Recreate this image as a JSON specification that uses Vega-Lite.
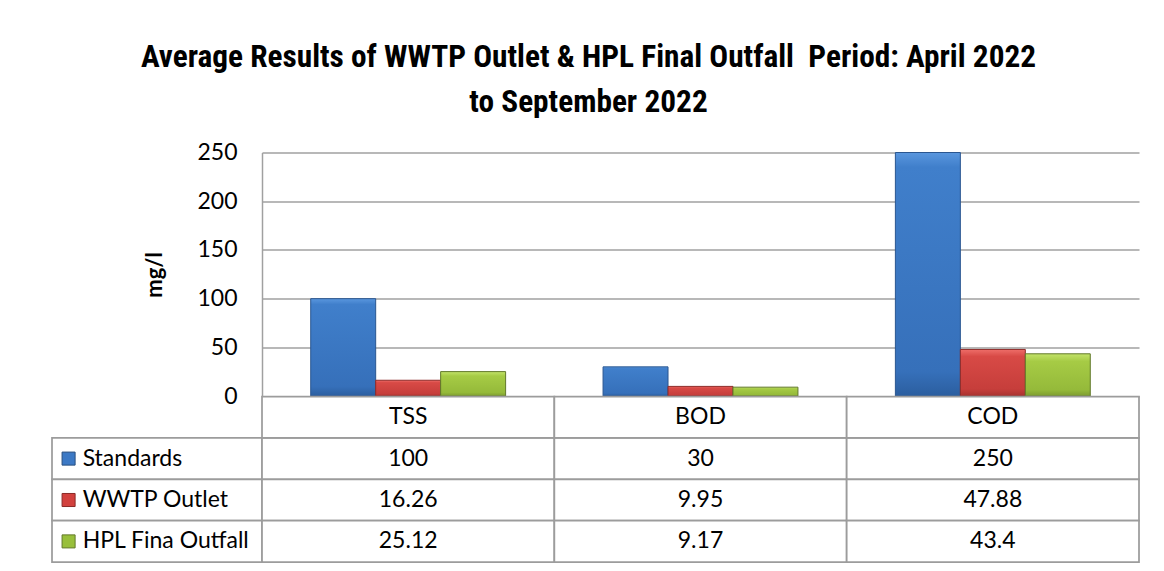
{
  "$schema": "https://vega.github.io/schema/vega-lite/v6.json",
  "padding": {"left": 51, "top": 41.5, "right": 24, "bottom": 9},
  "background": "white",
  "title": {
    "text": ["Average Results of WWTP Outlet & HPL Final Outfall \u00a0Period: April 2022", "to September 2022"],
    "font": "Roboto Condensed, DejaVu Sans Condensed, sans-serif",
    "fontSize": 31.3,
    "fontWeight": "bold",
    "lineHeight": 45,
    "color": "black",
    "anchor": "middle",
    "dx": -7,
    "offset": 23
  },
  "columns": 2,
  "spacing": 0,
  "bounds": "flush",
  "datasets": {
    "results": [
      {"parameter": "TSS", "series": "Standards", "value": 100},
      {"parameter": "TSS", "series": "WWTP Outlet", "value": 16.26},
      {"parameter": "TSS", "series": "HPL Fina Outfall", "value": 25.12},
      {"parameter": "BOD", "series": "Standards", "value": 30},
      {"parameter": "BOD", "series": "WWTP Outlet", "value": 9.95},
      {"parameter": "BOD", "series": "HPL Fina Outfall", "value": 9.17},
      {"parameter": "COD", "series": "Standards", "value": 250},
      {"parameter": "COD", "series": "WWTP Outlet", "value": 47.88},
      {"parameter": "COD", "series": "HPL Fina Outfall", "value": 43.4}
    ]
  },
  "concat": [
    {
      "width": 210,
      "height": 243.6,
      "data": {"values": [{}]},
      "mark": {"type": "text"},
      "encoding": {"text": {"value": ""}}
    },
    {
      "width": 877,
      "height": 243.6,
      "data": {"name": "results"},
      "encoding": {
        "x": {"field": "parameter", "type": "nominal", "sort": ["TSS", "BOD", "COD"], "scale": {"paddingInner": 0, "paddingOuter": 0}, "axis": null},
        "xOffset": {"field": "series", "type": "nominal", "sort": ["Standards", "WWTP Outlet", "HPL Fina Outfall"], "scale": {"domain": ["Standards", "WWTP Outlet", "HPL Fina Outfall"], "paddingInner": 0, "paddingOuter": 0.75}},
        "y": {
          "field": "value", "type": "quantitative",
          "scale": {"domain": [0, 250]},
          "axis": {
            "values": [0, 50, 100, 150, 200, 250],
            "grid": true, "gridColor": "#A0A0A0", "gridWidth": 1.5,
            "domain": true, "domainColor": "#A0A0A0", "domainWidth": 1.5,
            "ticks": false, "labelPadding": 25,
            "labelFont": "Lato", "labelFontSize": 23, "labelColor": "black",
            "title": "mg/l", "titleFont": "Lato", "titleFontSize": 22, "titleFontWeight": "bold", "titleColor": "black", "titlePadding": 30
          }
        }
      },
      "layer": [
        {
          "transform": [{"filter": "datum.series === 'Standards'"}],
          "mark": {
            "type": "bar", "strokeWidth": 1, "stroke": "#2A5690",
            "color": {"gradient": "linear", "x1": 0, "y1": 0, "x2": 0, "y2": 1,
              "stops": [{"offset": 0, "color": "#5A97DE"}, {"offset": 0.06, "color": "#407FCB"}, {"offset": 0.9, "color": "#3670BA"}, {"offset": 1, "color": "#2B5E9F"}]}
          }
        },
        {
          "transform": [{"filter": "datum.series === 'WWTP Outlet'"}],
          "mark": {
            "type": "bar", "strokeWidth": 1, "stroke": "#8E2B28",
            "color": {"gradient": "linear", "x1": 0, "y1": 0, "x2": 0, "y2": 1,
              "stops": [{"offset": 0, "color": "#EE6E69"}, {"offset": 0.15, "color": "#D84A46"}, {"offset": 0.85, "color": "#C63E3B"}, {"offset": 1, "color": "#A8322F"}]}
          }
        },
        {
          "transform": [{"filter": "datum.series === 'HPL Fina Outfall'"}],
          "mark": {
            "type": "bar", "strokeWidth": 1, "stroke": "#61782A",
            "color": {"gradient": "linear", "x1": 0, "y1": 0, "x2": 0, "y2": 1,
              "stops": [{"offset": 0, "color": "#C3E36A"}, {"offset": 0.18, "color": "#A6CB45"}, {"offset": 0.85, "color": "#95BA3A"}, {"offset": 1, "color": "#7D9C30"}]}
          }
        }
      ]
    },
    {
      "width": 210,
      "height": 165.6,
      "data": {"name": "results"},
      "transform": [{"aggregate": [{"op": "count", "as": "n"}], "groupby": ["series"]}],
      "encoding": {
        "y": {"field": "series", "type": "nominal", "scale": {"domain": ["hdr", "Standards", "WWTP Outlet", "HPL Fina Outfall"], "paddingInner": 0, "paddingOuter": 0}, "axis": null}
      },
      "layer": [
        {
          "mark": {"type": "rect", "fill": "white", "stroke": "#9C9C9C", "strokeWidth": 1.75},
          "encoding": {
            "x": {"datum": 0, "type": "quantitative", "scale": {"domain": [0, 1]}, "axis": null},
            "x2": {"datum": 1}
          }
        },
        {
          "mark": {"type": "square", "size": 170, "filled": true, "opacity": 1, "strokeWidth": 1},
          "encoding": {
            "x": {"datum": 0.079, "type": "quantitative"},
            "color": {"field": "series", "type": "nominal", "scale": {"domain": ["Standards", "WWTP Outlet", "HPL Fina Outfall"], "range": ["#3C79C5", "#D2413E", "#98BF3B"]}, "legend": null},
            "stroke": {"field": "series", "type": "nominal", "scale": {"domain": ["Standards", "WWTP Outlet", "HPL Fina Outfall"], "range": ["#284F80", "#8A2A27", "#62792A"]}, "legend": null}
          }
        },
        {
          "mark": {"type": "text", "align": "left", "baseline": "middle", "font": "Lato", "fontSize": 23, "color": "black"},
          "encoding": {
            "x": {"datum": 0.146, "type": "quantitative"},
            "text": {"field": "series", "type": "nominal"}
          }
        }
      ]
    },
    {
      "width": 877,
      "height": 165.6,
      "layer": [
        {
          "data": {"name": "results"},
          "mark": {"type": "rect", "fill": "white", "stroke": "#9C9C9C", "strokeWidth": 1.75},
          "encoding": {
            "x": {"field": "parameter", "type": "nominal", "scale": {"domain": ["TSS", "BOD", "COD"], "paddingInner": 0, "paddingOuter": 0}, "axis": null},
            "y": {"field": "series", "type": "nominal", "scale": {"domain": ["hdr", "Standards", "WWTP Outlet", "HPL Fina Outfall"], "paddingInner": 0, "paddingOuter": 0}, "axis": null}
          }
        },
        {
          "data": {"name": "results"},
          "mark": {"type": "text", "align": "center", "baseline": "middle", "font": "Lato", "fontSize": 23, "color": "black"},
          "encoding": {
            "x": {"field": "parameter", "type": "nominal"},
            "y": {"field": "series", "type": "nominal"},
            "text": {"field": "value", "type": "nominal"}
          }
        },
        {
          "data": {"name": "results"},
          "transform": [{"aggregate": [{"op": "count", "as": "n"}], "groupby": ["parameter"]}],
          "mark": {"type": "rect", "fill": "white", "stroke": "#9C9C9C", "strokeWidth": 1.75},
          "encoding": {
            "x": {"field": "parameter", "type": "nominal"},
            "y": {"datum": "hdr", "type": "nominal"}
          }
        },
        {
          "data": {"name": "results"},
          "transform": [{"aggregate": [{"op": "count", "as": "n"}], "groupby": ["parameter"]}],
          "mark": {"type": "text", "align": "center", "baseline": "middle", "font": "Lato", "fontSize": 23, "color": "black"},
          "encoding": {
            "x": {"field": "parameter", "type": "nominal"},
            "y": {"datum": "hdr", "type": "nominal"},
            "text": {"field": "parameter", "type": "nominal"}
          }
        }
      ]
    }
  ],
  "config": {"view": {"stroke": null}, "font": "Lato"}
}
